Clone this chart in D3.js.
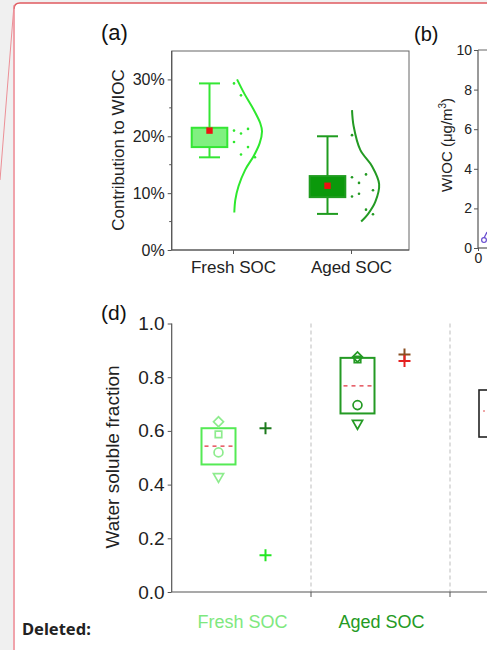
<!DOCTYPE html>
<html><head><meta charset="utf-8">
<script src="https://cdn.jsdelivr.net/npm/d3@7"></script>
<style>
html,body{margin:0;padding:0;background:#fff;}
svg{display:block;font-family:"Liberation Sans",Arial,sans-serif;}
</style></head>
<body>
<svg id="chart" width="487" height="650"></svg>
<script>
// ---------------- DATA ----------------
const categoriesA = ["Fresh SOC", "Aged SOC"];
const percentTicksA = [0, 0.1, 0.2, 0.3];
const minorTicksA = [0.05, 0.15, 0.25];
// box statistics (fraction): min, q1, q3, max, mean
const boxMinA  = [0.163, 0.0635];
const boxQ1A   = [0.181, 0.093];
const boxQ3A   = [0.215, 0.130];
const boxMaxA  = [0.293, 0.200];
const boxMeanA = [0.210, 0.113];
// individual data points (value, jitter column)
const freshDots = [[0.293,0],[0.272,1],[0.210,0],[0.205,1],[0.213,2],[0.190,0],[0.181,2],[0.168,1],[0.163,3]];
const agedDots  = [[0.202,0],[0.128,0],[0.133,2],[0.118,1],[0.105,3],[0.094,0],[0.099,1],[0.071,2],[0.063,3]];
// distribution curves (value, relative density)
const freshCurve = [[0.300,0.14],[0.275,0.39],[0.247,0.71],[0.223,0.94],[0.209,1.0],[0.188,0.92],[0.165,0.71],[0.141,0.42],[0.112,0.19],[0.088,0.08],[0.066,0.045]];
const agedCurve  = [[0.246,0.035],[0.218,0.09],[0.176,0.32],[0.147,0.73],[0.116,0.97],[0.085,0.84],[0.065,0.61],[0.050,0.35]];

const ticksB = [0, 2, 4, 6, 8, 10];
const pointsB = [[0.15, 0.4]];

const categoriesD = ["Fresh SOC", "Aged SOC", ""];
const ticksD = [0, 0.2, 0.4, 0.6, 0.8, 1.0];
const boxTopD  = [0.610, 0.872];
const boxBotD  = [0.475, 0.665];
const boxMeanD = [0.543, 0.768];
const diamondD = [0.634, 0.875];
const squareD  = [0.587, 0.866];
const circleD  = [0.520, 0.696];
const triangleD= [0.430, 0.628];
// crosses: [category, value, colour-key]
const crossesD = [["Fresh SOC",0.610,"dark"],["Fresh SOC",0.137,"bright"],["Aged SOC",0.885,"brown"],["Aged SOC",0.860,"red"]];

// ---------------- STYLE ----------------
const colA = {"Fresh SOC":{stroke:"#34e634",fill:"#80f080",curve:"#2ee82e"},
              "Aged SOC":{stroke:"#1f9c1f",fill:"#0b990b",curve:"#239a23"}};
const colD = {"Fresh SOC":{box:"#55ea55",mark:"#8eec8e",label:"#7ee87e"},
              "Aged SOC":{box:"#249a24",mark:"#249a24",label:"#249a24"}};
const crossCol = {dark:"#1c7a1c",bright:"#22e622",brown:"#8a4f22",red:"#e52020"};
const axisCol = "#555";

const svg = d3.select("#chart");

// background / comment frame
svg.append("rect").attr("x",0).attr("y",0).attr("width",487).attr("height",650).attr("fill","#f0f0f0");
svg.append("path").attr("d","M14,652 L14,9 Q14,3 20,3 L490,3 L490,652 Z").attr("fill","#fff").attr("stroke","none");
svg.append("path").attr("d","M14,652 L14,9").attr("stroke","#f0a3ab").attr("stroke-width",2).attr("fill","none");
svg.append("path").attr("d","M14,9 Q14,3 20,3 L490,3").attr("stroke","#e05a5f").attr("stroke-width",1.5).attr("fill","none");
svg.append("line").attr("x1",14).attr("y1",5).attr("x2",0).attr("y2",180).attr("stroke","#ec8f96").attr("stroke-width",1);
svg.append("text").attr("x",22).attr("y",635).attr("font-family","'Noto Sans','Open Sans',sans-serif")
  .attr("font-weight","bold").attr("font-size",16.5).attr("fill","#222").text("Deleted:");

// ---------------- PANEL (a) ----------------
const aL = 171.7, aR = 409, aB = 250;
const xA = d3.scalePoint().domain(categoriesA).range([174, 410]).padding(0.5);
const yA = d3.scaleLinear().domain([0, 0.35]).range([aB, 51]);
const wA = d3.scaleLinear().domain([0, 1]).range([0, 29]);
const gA = svg.append("g");
gA.append("rect").attr("x",aL).attr("y",yA(0.35)).attr("width",aR-aL).attr("height",aB-yA(0.35))
  .attr("fill","none").attr("stroke","#666").attr("stroke-width",1);
const axA = gA.append("g").attr("transform",`translate(${aL},0)`)
  .call(d3.axisLeft(yA).tickValues(percentTicksA).tickFormat(d3.format(".0%")).tickSize(4).tickPadding(3));
axA.select(".domain").remove();
axA.selectAll("line").attr("stroke",axisCol);
axA.selectAll("text").attr("font-size",16).attr("fill","#222").attr("font-family","'Liberation Sans',Arial,sans-serif");
gA.selectAll(".minA").data(minorTicksA).join("line").attr("x1",aL-2.5).attr("x2",aL)
  .attr("y1",d=>yA(d)).attr("y2",d=>yA(d)).attr("stroke",axisCol);
gA.append("line").attr("x1",aL).attr("x2",aL).attr("y1",yA(0.35)).attr("y2",aB).attr("stroke",axisCol).attr("stroke-width",1.2);
gA.append("line").attr("x1",aL).attr("x2",aR).attr("y1",aB).attr("y2",aB).attr("stroke",axisCol).attr("stroke-width",1.2);
const axAx = gA.append("g").attr("transform",`translate(0,${aB})`).call(d3.axisBottom(xA).tickSize(4).tickPadding(7));
axAx.select(".domain").remove();
axAx.selectAll("line").attr("stroke",axisCol);
axAx.selectAll("text").attr("font-size",17).attr("fill","#222").attr("font-family","'Liberation Sans',Arial,sans-serif");
gA.append("text").attr("transform",`translate(124,150) rotate(-90)`).attr("text-anchor","middle")
  .attr("font-size",17).attr("fill","#222").text("Contribution to WIOC");
gA.append("text").attr("x",101).attr("y",40).attr("font-size",22).attr("fill","#111").text("(a)");

const boxOff = -23.5, boxW = 35.6, capW = 21;
categoriesA.forEach((c,i)=>{
  const cx = xA(c) + boxOff, col = colA[c];
  gA.append("line").attr("x1",cx).attr("x2",cx).attr("y1",yA(boxMaxA[i])).attr("y2",yA(boxMinA[i]))
    .attr("stroke",col.stroke).attr("stroke-width",2);
  [boxMaxA[i], boxMinA[i]].forEach(v=>gA.append("line").attr("x1",cx-capW/2).attr("x2",cx+capW/2)
    .attr("y1",yA(v)).attr("y2",yA(v)).attr("stroke",col.stroke).attr("stroke-width",2));
  gA.append("rect").attr("x",cx-boxW/2).attr("width",boxW).attr("y",yA(boxQ3A[i]))
    .attr("height",yA(boxQ1A[i])-yA(boxQ3A[i])).attr("fill",col.fill).attr("stroke",col.stroke).attr("stroke-width",2);
  gA.append("rect").attr("x",cx-3.2).attr("y",yA(boxMeanA[i])-3.2).attr("width",6.4).attr("height",6.4).attr("fill","#ee1111");
  const dots = i===0 ? freshDots : agedDots;
  gA.selectAll(null).data(dots).join("circle").attr("cx",d=>xA(c)+1+d[1]*7).attr("cy",d=>yA(d[0]))
    .attr("r",1.3).attr("fill",col.curve);
  const curve = i===0 ? freshCurve : agedCurve;
  gA.append("path").datum(curve).attr("fill","none").attr("stroke",col.curve).attr("stroke-width",2)
    .attr("d",d3.line().x(d=>xA(c)+wA(d[1])).y(d=>yA(d[0])).curve(d3.curveCatmullRom));
});

// ---------------- PANEL (b) ----------------
const bL = 478;
const yB = d3.scaleLinear().domain([0,10]).range([248,50]);
const xB = d3.scaleLinear().domain([0,10]).range([bL, bL+200]);
const gB = svg.append("g");
const axB = gB.append("g").attr("transform",`translate(${bL},0)`)
  .call(d3.axisLeft(yB).tickValues(ticksB).tickSize(4).tickPadding(2));
axB.select(".domain").remove();
axB.selectAll("line").attr("stroke",axisCol);
axB.selectAll("text").attr("font-size",14).attr("fill","#222").attr("font-family","'Liberation Sans',Arial,sans-serif");
gB.append("line").attr("x1",bL).attr("x2",bL).attr("y1",yB(10)).attr("y2",yB(0)).attr("stroke",axisCol).attr("stroke-width",1.2);
gB.append("line").attr("x1",bL).attr("x2",490).attr("y1",yB(0)).attr("y2",yB(0)).attr("stroke",axisCol).attr("stroke-width",1.2);
gB.append("line").attr("x1",bL).attr("x2",490).attr("y1",yB(10)).attr("y2",yB(10)).attr("stroke","#666").attr("stroke-width",1);
const axBx = gB.append("g").attr("transform",`translate(0,${yB(0)})`)
  .call(d3.axisBottom(xB).tickValues([0]).tickSize(3).tickPadding(2));
axBx.select(".domain").remove();
axBx.selectAll("line").attr("stroke",axisCol);
axBx.selectAll("text").attr("font-size",14).attr("fill","#222").attr("font-family","'Liberation Sans',Arial,sans-serif");
gB.selectAll(null).data(pointsB).join("circle").attr("cx",d=>xB(d[0])+3).attr("cy",d=>yB(d[1]))
  .attr("r",2.4).attr("fill","none").attr("stroke","#6a4fd0").attr("stroke-width",1.2);
gB.selectAll(null).data(pointsB).join("line").attr("x1",d=>xB(d[0])+3).attr("x2",d=>xB(d[0])+6)
  .attr("y1",d=>yB(d[1])-2).attr("y2",d=>yB(d[1])-8).attr("stroke","#6a4fd0").attr("stroke-width",1.2);
const bt = gB.append("text").attr("transform",`translate(452,145) rotate(-90)`).attr("text-anchor","middle")
  .attr("font-size",15).attr("fill","#222");
bt.append("tspan").text("WIOC (μg/m");
bt.append("tspan").attr("font-size",10).attr("dy",-6).text("3");
bt.append("tspan").attr("dy",6).text(")");
gB.append("text").attr("x",414).attr("y",41).attr("font-size",20).attr("fill","#111").text("(b)");

// ---------------- PANEL (d) ----------------
const dL = 171.7, dB = 592;
const xD = d3.scaleBand().domain(categoriesD).range([172, 589]);
const yD = d3.scaleLinear().domain([0,1]).range([dB, 323.5]);
const gD = svg.append("g");
// separators
const seps = categoriesD.slice(1).map(c=>xD(c));
gD.selectAll(null).data(seps).join("line").attr("x1",d=>d).attr("x2",d=>d).attr("y1",yD(1)).attr("y2",dB)
  .attr("stroke","#c8c8c8").attr("stroke-width",1.2).attr("stroke-dasharray","4,3");
gD.selectAll(null).data(seps).join("line").attr("x1",d=>d).attr("x2",d=>d).attr("y1",dB).attr("y2",dB+5)
  .attr("stroke",axisCol).attr("stroke-width",1);
const axD = gD.append("g").attr("transform",`translate(${dL},0)`)
  .call(d3.axisLeft(yD).tickValues(ticksD).tickFormat(d3.format(".1f")).tickSize(4).tickPadding(3));
axD.select(".domain").remove();
axD.selectAll("line").attr("stroke",axisCol);
axD.selectAll("text").attr("font-size",19).attr("fill","#222").attr("font-family","'Liberation Sans',Arial,sans-serif");
gD.append("line").attr("x1",dL).attr("x2",dL).attr("y1",yD(1)).attr("y2",dB).attr("stroke",axisCol).attr("stroke-width",1.2);
gD.append("line").attr("x1",dL).attr("x2",490).attr("y1",dB).attr("y2",dB).attr("stroke",axisCol).attr("stroke-width",1.2);
gD.selectAll(".catD").data(categoriesD.filter(c=>c)).join("text")
  .attr("x",d=>xD(d)+xD.bandwidth()/2+1).attr("y",628).attr("text-anchor","middle")
  .attr("font-size",18).attr("fill",d=>colD[d].label).text(d=>d);
gD.append("text").attr("transform",`translate(119,457) rotate(-90)`).attr("text-anchor","middle")
  .attr("font-size",19).attr("fill","#222").text("Water soluble fraction");
gD.append("text").attr("x",101).attr("y",320).attr("font-size",21).attr("fill","#111").text("(d)");

const bwD = 34, offD = -23;
const sym = (type,size)=>d3.symbol().type(type).size(size)();
categoriesD.filter(c=>c).forEach((c,i)=>{
  const cx = xD(c) + xD.bandwidth()/2 + offD, col = colD[c];
  gD.append("rect").attr("x",cx-bwD/2).attr("width",bwD).attr("y",yD(boxTopD[i]))
    .attr("height",yD(boxBotD[i])-yD(boxTopD[i])).attr("fill","none").attr("stroke",col.box).attr("stroke-width",2);
  gD.append("line").attr("x1",cx-bwD/2+3).attr("x2",cx+bwD/2).attr("y1",yD(boxMeanD[i])).attr("y2",yD(boxMeanD[i]))
    .attr("stroke","#e0303c").attr("stroke-width",1.3).attr("stroke-dasharray","4,4");
  const marks = [[diamondD[i], sym(d3.symbolSquare,50), 45],[squareD[i], sym(d3.symbolSquare,42),0],
                 [circleD[i], sym(d3.symbolCircle,62),0],[triangleD[i], sym(d3.symbolTriangle,44),180]];
  marks.forEach(m=>gD.append("path").attr("d",m[1]).attr("transform",`translate(${cx},${yD(m[0])}) rotate(${m[2]})`)
    .attr("fill","none").attr("stroke",col.mark).attr("stroke-width",1.7));
});
crossesD.forEach(cr=>{
  const cx = xD(cr[0]) + xD.bandwidth()/2 + 24, cy = yD(cr[1]);
  gD.append("path").attr("d",`M${cx-6},${cy}H${cx+6}M${cx},${cy-6}V${cy+6}`)
    .attr("stroke",crossCol[cr[2]]).attr("stroke-width",2).attr("fill","none");
});
// partial legend box at right edge
gD.append("rect").attr("x",479).attr("y",390).attr("width",30).attr("height",47)
  .attr("fill","none").attr("stroke","#222").attr("stroke-width",1.6);
gD.append("line").attr("x1",483).attr("x2",485).attr("y1",411).attr("y2",411).attr("stroke","#e05050").attr("stroke-width",1);
</script>
</body></html>
